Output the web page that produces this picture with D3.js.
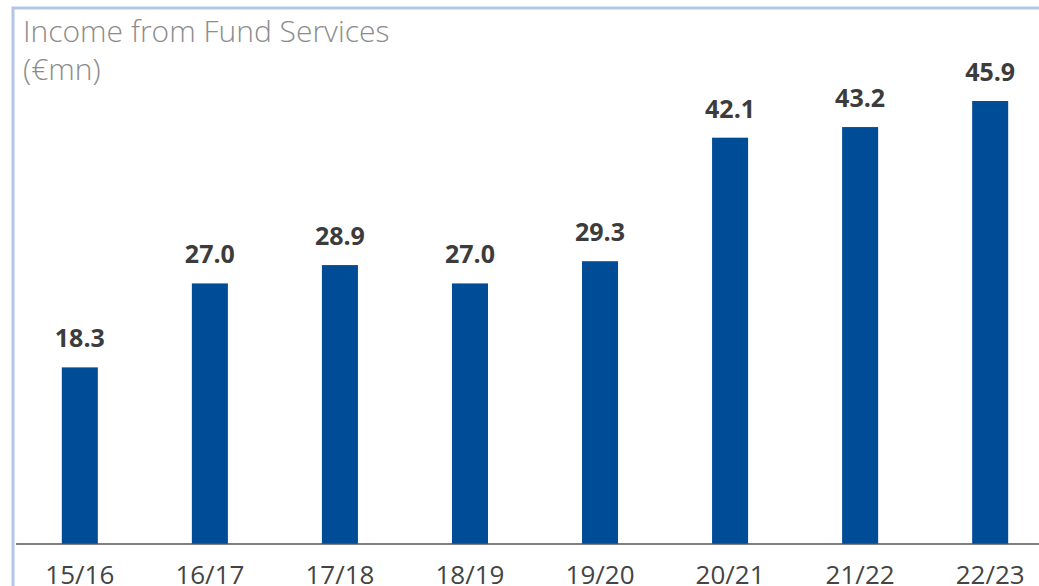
<!DOCTYPE html>
<html><head><meta charset="utf-8">
<script src="https://cdn.jsdelivr.net/npm/d3@7"></script>
<style>body{margin:0;background:#fff;}svg{display:block;}</style>
</head><body>
<svg id="c" width="1039" height="586"></svg>
<script>
const categories = ["15/16","16/17","17/18","18/19","19/20","20/21","21/22","22/23"];
const values = [18.3, 27.0, 28.9, 27.0, 29.3, 42.1, 43.2, 45.9];
const titleLines = ["Income from Fund Services", "(€mn)"];

const svg = d3.select("#c");
const W = 1039, H = 586;
const baseY = 544;
const x = d3.scaleBand().domain(categories).range([15, 1055]).paddingInner(0.723).paddingOuter(0.36);
const y = d3.scaleLinear().domain([0, 45.9]).range([baseY, 101]);

// frame
svg.append("rect").attr("x",13).attr("y",8).attr("width",1040).attr("height",600)
  .attr("fill","none").attr("stroke","#b3c6e6").attr("stroke-width",3);

// title
svg.append("g").selectAll("text").data(titleLines).join("text")
  .attr("x",23).attr("y",(d,i)=>42+i*38)
  .attr("font-family","Open Sans").attr("font-weight",300).attr("font-size",30)
  .attr("fill","#8c8c8c").text(d=>d);

// bars
svg.append("g").selectAll("rect").data(values).join("rect")
  .attr("x",(d,i)=>x(categories[i])).attr("width",x.bandwidth())
  .attr("y",d=>y(d)).attr("height",d=>baseY-y(d)).attr("fill","#004c97");

// value labels
svg.append("g").selectAll("text").data(values).join("text")
  .attr("x",(d,i)=>x(categories[i])+x.bandwidth()/2).attr("y",d=>y(d)-20)
  .attr("text-anchor","middle").attr("font-family","Open Sans").attr("font-weight",700)
  .attr("font-size",25).attr("fill","#3c3c3c").text(d=>d.toFixed(1));

// axis
const ax = svg.append("g").attr("transform",`translate(0,${baseY})`)
  .call(d3.axisBottom(x).tickSize(0).tickPadding(22));
ax.select(".domain").attr("stroke","#555").attr("stroke-width",1.5).attr("d","M16,0H1039");
ax.selectAll("text").attr("font-family","Open Sans").attr("font-size",26).attr("fill","#444");
</script>
</body></html>
